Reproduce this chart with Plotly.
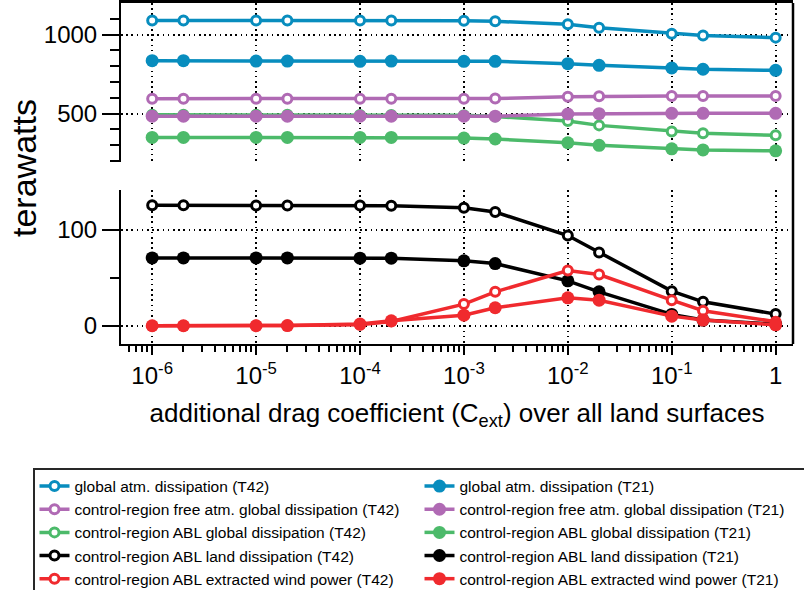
import plotly.graph_objects as go

# ---------------- data ----------------
cext = [1e-6, 2e-6, 1e-5, 2e-5, 1e-4, 2e-4, 1e-3, 2e-3, 1e-2, 2e-2, 1e-1, 2e-1, 1]
x_tickvals = [1e-6, 1e-5, 1e-4, 1e-3, 1e-2, 1e-1, 1]
x_ticktext = ["10<sup>-6</sup>", "10<sup>-5</sup>", "10<sup>-4</sup>", "10<sup>-3</sup>",
              "10<sup>-2</sup>", "10<sup>-1</sup>", "1"]

glob_T42 = [1090, 1090, 1090, 1090, 1090, 1089, 1088, 1084, 1065, 1043, 1006, 994, 981]
glob_T21 = [835, 835, 833, 833, 831, 833, 831, 831, 816, 806, 789, 781, 774]
free_T42 = [595, 595, 595, 595, 595, 595, 595, 596, 607, 610, 612, 612, 612]
free_T21 = [484, 484, 484, 484, 484, 484, 484, 484, 498, 500, 502, 502, 502]
abl_T42 = [493, 493, 493, 493, 492, 492, 490, 482, 453, 426, 388, 376, 363]
abl_T21 = [350, 350, 350, 350, 350, 350, 346, 340, 316, 300, 278, 271, 265]
land_T42 = [125.3, 125.3, 125, 125, 125, 124.8, 122.8, 118.3, 93.8, 76.1, 36, 24.9, 12.1]
land_T21 = [70.6, 70.6, 70.5, 70.6, 70.3, 70.3, 67.5, 64.7, 46.7, 35.3, 11.8, 5.9, 1.7]
wind_T42 = [0, 0, 0.2, 0.3, 1, 4.5, 22.5, 35.3, 57.4, 53.3, 26.6, 15.6, 4.2]
wind_T21 = [0, 0, 0, 0.2, 1.7, 5.2, 11, 18.7, 29, 26.6, 10, 5.9, 1.0]

names = {
    "glob": "global atm. dissipation",
    "free": "control-region free atm. global dissipation",
    "abl": "control-region ABL global dissipation",
    "land": "control-region ABL land dissipation",
    "wind": "control-region ABL extracted wind power",
}
colors = {
    "glob": "rgb(8,141,190)",
    "free": "rgb(176,106,180)",
    "abl": "rgb(76,186,106)",
    "land": "rgb(0,0,0)",
    "wind": "rgb(240,42,46)",
}

FONT = "Liberation Sans, Arial, Helvetica, sans-serif"

fig = go.Figure()

# (key, values, resolution, panel, legendrank) in drawing order;
# legend is a 2-column grid filled row by row: T42 left, T21 right
series = [
    ("glob", glob_T42, "T42", "top", 1),
    ("glob", glob_T21, "T21", "top", 2),
    ("abl", abl_T42, "T42", "top", 5),
    ("abl", abl_T21, "T21", "top", 6),
    ("free", free_T42, "T42", "top", 3),
    ("free", free_T21, "T21", "top", 4),
    ("land", land_T42, "T42", "bot", 7),
    ("land", land_T21, "T21", "bot", 8),
    ("wind", wind_T42, "T42", "bot", 9),
    ("wind", wind_T21, "T21", "bot", 10),
]

for key, vals, res, panel, rank in series:
    c = colors[key]
    if res == "T42":
        marker = dict(symbol="circle", size=9, color="white", line=dict(color=c, width=3))
    else:
        marker = dict(symbol="circle", size=13, color=c, line=dict(color=c, width=0))
    fig.add_trace(go.Scatter(
        x=cext, y=vals, mode="lines+markers",
        name=f"{names[key]} ({res})",
        line=dict(color=c, width=3.5),
        marker=marker,
        xaxis="x" if panel == "bot" else "x2",
        yaxis="y" if panel == "bot" else "y2",
        legendrank=rank,
        cliponaxis=False,
    ))

minor_x = [k * 10.0 ** e for e in range(-7, 1) for k in range(2, 10)]
minor_x = [v for v in minor_x if 10 ** -6.3 < v < 10 ** 0.167]

grid = dict(showgrid=True, gridcolor="black", gridwidth=1.6, griddash="1.6px,3.6px")

W, H = 804, 590
ML, MR, MT, MB = 121, 11, 3, 246
PW, PH = W - ML - MR, H - MT - MB


def px_to_paper_x(px):
    return (px - ML) / PW


def px_to_paper_y(py):
    return (H - MB - py) / PH


fig.update_layout(
    width=W, height=H,
    margin=dict(l=ML, r=MR, t=MT, b=MB, autoexpand=False),
    paper_bgcolor="white", plot_bgcolor="white",
    font=dict(family=FONT, color="black"),
    showlegend=True,
    xaxis=dict(
        type="log", range=[-6.3, 0.167], domain=[0, 1], anchor="y",
        tickmode="array", tickvals=x_tickvals, ticktext=x_ticktext,
        ticks="outside", ticklen=9, tickwidth=1.5, tickcolor="black",
        tickfont=dict(size=24, family=FONT), tickangle=0,
        showline=True, linecolor="black", linewidth=2,
        minor=dict(tickvals=minor_x, ticks="outside", ticklen=6, tickwidth=1.5,
                   tickcolor="black", showgrid=False),
        zeroline=False, automargin=False,
        title=dict(text="additional drag coefficient (C<sub>ext</sub>) over all land surfaces",
                   font=dict(size=26, family=FONT), standoff=16),
        **grid,
    ),
    xaxis2=dict(
        type="log", range=[-6.3, 0.167], domain=[0, 1], anchor="y2", side="top",
        tickmode="array", tickvals=x_tickvals,
        showticklabels=False, ticks="",
        showline=True, linecolor="black", linewidth=2.5,
        zeroline=False, matches="x", automargin=False,
        **grid,
    ),
    yaxis=dict(
        domain=[0, 0.451], range=[-19, 141], anchor="x",
        tickmode="array", tickvals=[0, 100],
        ticks="outside", ticklen=17, tickwidth=1.5, tickcolor="black",
        tickfont=dict(size=24, family=FONT),
        minor=dict(tickvals=[50], ticks="outside", ticklen=9, tickwidth=1.5, tickcolor="black",
                   showgrid=False),
        showline=True, linecolor="black", linewidth=2,
        zeroline=False, automargin=False,
        **grid,
    ),
    yaxis2=dict(
        domain=[0.534, 1], range=[195, 1200], anchor="x2",
        tickmode="array", tickvals=[500, 1000],
        ticks="outside", ticklen=17, tickwidth=1.5, tickcolor="black",
        tickfont=dict(size=24, family=FONT),
        minor=dict(tickvals=[200, 300, 400, 600, 700, 800, 900, 1100], ticks="outside",
                   ticklen=9, tickwidth=1.5, tickcolor="black", showgrid=False),
        showline=True, linecolor="black", linewidth=2,
        zeroline=False, automargin=False,
        **grid,
    ),
    legend=dict(
        orientation="h", xref="paper", yref="paper",
        x=px_to_paper_x(33), y=px_to_paper_y(468),
        xanchor="left", yanchor="top",
        entrywidth=340, entrywidthmode="pixels",
        font=dict(size=15.5, family=FONT),
        bordercolor="rgb(40,40,40)", borderwidth=1.5, bgcolor="white",
        traceorder="normal", itemwidth=30,
    ),
    shapes=[
        dict(type="line", xref="paper", yref="paper", x0=1, x1=1, y0=0, y1=1,
             line=dict(color="black", width=2.5)),
    ],
    annotations=[
        dict(text="terawatts", xref="paper", yref="paper",
             x=px_to_paper_x(24), y=px_to_paper_y(168),
             xanchor="center", yanchor="middle", textangle=-90, showarrow=False,
             font=dict(size=34, family=FONT)),
    ],
)

fig.write_html("out.html", config={"displayModeBar": False},
               post_script="document.body.style.margin='0px';")
